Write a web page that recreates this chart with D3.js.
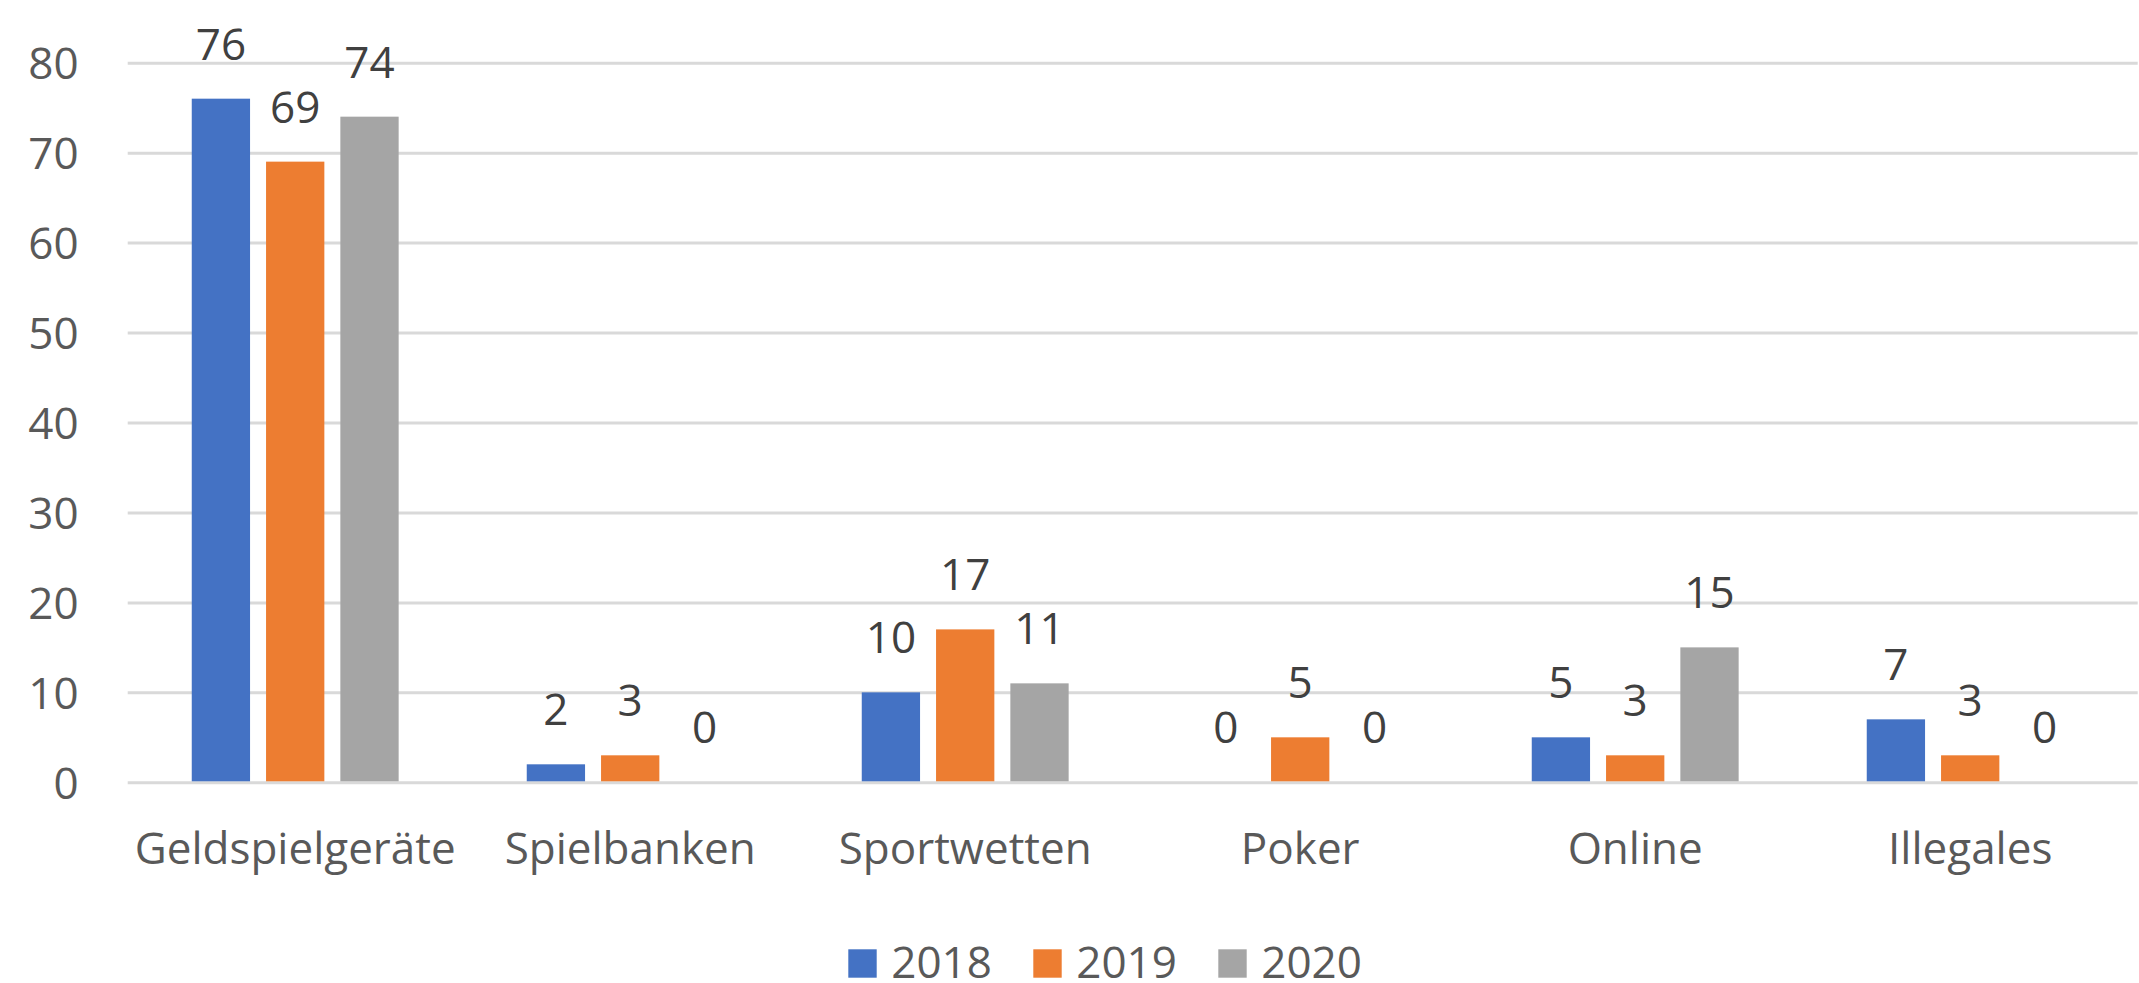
<!DOCTYPE html>
<html>
<head>
<meta charset="utf-8">
<script src="https://cdn.jsdelivr.net/npm/d3@7"></script>
<style>
    html, body { margin: 0; padding: 0; background: #fff; }
    svg text { font-family: "Open Sans", sans-serif; }
</style>
</head>
<body>
<div id="chart"></div>
<script>
// Data
const categories = ["Geldspielgeräte", "Spielbanken", "Sportwetten", "Poker", "Online", "Illegales"];
const years = ["2018", "2019", "2020"];
const values2018 = [76, 2, 10, 0, 5, 7];
const values2019 = [69, 3, 17, 5, 3, 3];
const values2020 = [74, 0, 11, 0, 15, 0];
const yTicks = [0, 10, 20, 30, 40, 50, 60, 70, 80];
const colors = ["#4472c4", "#ed7d31", "#a5a5a5"];

const series = [values2018, values2019, values2020];

const W = 2139, H = 983;
const plot = { left: 127.7, right: 2137.7, top: 62.7, bottom: 782.3 };

const svg = d3.select("#chart").append("svg")
    .attr("width", W)
    .attr("height", H);

const x0 = d3.scaleBand()
    .domain(categories)
    .range([plot.left, plot.right])
    .padding(0);

const groupW = 206.9;
const x1 = d3.scaleBand()
    .domain(years)
    .range([-groupW / 2, groupW / 2])
    .paddingInner(0.2153)
    .paddingOuter(0);

const y = d3.scaleLinear()
    .domain([0, 80])
    .range([plot.bottom, plot.top]);

// gridlines + y labels
const yAxis = svg.append("g")
    .attr("transform", `translate(${plot.left},0)`)
    .call(d3.axisLeft(y).tickValues(yTicks).tickSize(-(plot.right - plot.left)).tickPadding(49));
yAxis.select(".domain").remove();
yAxis.selectAll("line").attr("stroke", "#d9d9d9").attr("stroke-width", 3);
yAxis.selectAll("text")
    .attr("dy", "0.36em")
    .attr("fill", "#595959")
    .style("font-size", "44px");

// x labels
const xAxis = svg.append("g")
    .attr("transform", `translate(0,${plot.bottom})`)
    .call(d3.axisBottom(x0).tickSize(0).tickPadding(50));
xAxis.select(".domain").remove();
xAxis.selectAll("text")
    .attr("fill", "#595959")
    .style("font-size", "44px");

// bars
const rows = [];
categories.forEach((c, i) => {
    years.forEach((yr, j) => {
        rows.push({ cat: c, year: yr, value: series[j][i], idx: j });
    });
});

const barX = d => x0(d.cat) + x0.bandwidth() / 2 + x1(d.year);

svg.append("g").selectAll("rect")
    .data(rows.filter(d => d.value > 0))
    .enter().append("rect")
    .attr("x", barX)
    .attr("y", d => y(d.value))
    .attr("width", x1.bandwidth())
    .attr("height", d => y(0) - y(d.value) - 1)
    .attr("fill", d => colors[d.idx]);

// data labels
svg.append("g").selectAll("text")
    .data(rows)
    .enter().append("text")
    .attr("x", d => barX(d) + x1.bandwidth() / 2)
    .attr("y", d => y(d.value) - 39)
    .attr("text-anchor", "middle")
    .attr("fill", "#404040")
    .style("font-size", "44px")
    .text(d => d.value);

// legend
const legendX = [848.3, 1033.3, 1218.3];
const legend = svg.append("g").selectAll("g")
    .data(years)
    .enter().append("g")
    .attr("transform", (d, i) => `translate(${legendX[i]},949.3)`);
legend.append("rect")
    .attr("width", 28.4)
    .attr("height", 28.4)
    .attr("fill", (d, i) => colors[i]);
legend.append("text")
    .attr("x", 43)
    .attr("y", 28.4)
    .attr("fill", "#595959")
    .style("font-size", "44px")
    .text(d => d);
</script>
</body>
</html>
